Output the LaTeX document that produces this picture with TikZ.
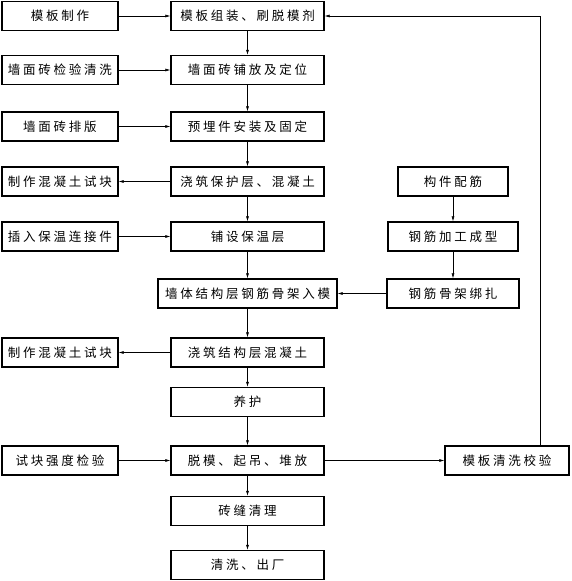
\documentclass[tikz,border=0pt]{standalone}
\usepackage{fontspec}
\setmainfont{Noto Sans CJK SC}[LetterSpace=22]
\usetikzlibrary{arrows.meta}
\begin{document}
\begin{tikzpicture}[x=1pt,y=-1pt,
  box/.style={draw,line width=1.3pt,minimum height=29pt,inner sep=0pt,font=\fontsize{12.5}{14}\selectfont},
  cbox/.style={box,minimum width=153pt},
  lbox/.style={box,minimum width=116pt},
  conn/.style={line width=0.6pt,-{Latex[length=5pt,width=3pt]}}]
\useasboundingbox (0,0) rectangle (571,581);
% center column
\node[cbox] (c1) at (247.5,16) {模板组装、刷脱模剂};
\node[cbox] (c2) at (247.5,70) {墙面砖铺放及定位};
\node[cbox] (c3) at (247.5,126.5) {预埋件安装及固定};
\node[cbox] (c4) at (247.5,181.5) {浇筑保护层、混凝土};
\node[cbox] (c5) at (247.5,236.5) {铺设保温层};
\node[box,minimum width=179pt] (c6) at (247.5,293.5) {墙体结构层钢筋骨架入模};
\node[cbox] (c7) at (247.5,352.5) {浇筑结构层混凝土};
\node[cbox] (c8) at (247.5,402) {养护};
\node[cbox] (c9) at (247.5,460.5) {脱模、起吊、堆放};
\node[cbox] (c10) at (247.5,511) {砖缝清理};
\node[cbox] (c11) at (247.5,565) {清洗、出厂};
% left column
\node[lbox] (l1) at (60,16) {模板制作};
\node[lbox] (l2) at (60,70) {墙面砖检验清洗};
\node[lbox] (l3) at (60,126.5) {墙面砖排版};
\node[lbox] (l4) at (60,181.5) {制作混凝土试块};
\node[lbox] (l5) at (60,236.5) {插入保温连接件};
\node[lbox] (l7) at (60,352.5) {制作混凝土试块};
\node[lbox] (l9) at (60,460.5) {试块强度检验};
% right column
\node[box,minimum width=110pt] (r4) at (453,181.5) {构件配筋};
\node[box,minimum width=130pt] (r5) at (453,236.5) {钢筋加工成型};
\node[box,minimum width=132pt] (r6) at (453,293.5) {钢筋骨架绑扎};
\node[box,minimum width=124pt] (r9) at (507,460.5) {模板清洗校验};
\coordinate (fb) at (540,16);
% vertical connectors
\foreach \a/\b in {c1/c2,c2/c3,c3/c4,c4/c5,c5/c6,c6/c7,c7/c8,c8/c9,c9/c10,c10/c11,r4/r5,r5/r6}
  \draw[conn] (\a) -- (\b);
% horizontal connectors
\draw[conn] (l1) -- (c1);
\draw[conn] (l2) -- (c2);
\draw[conn] (l3) -- (c3);
\draw[conn] (c4) -- (l4);
\draw[conn] (l5) -- (c5);
\draw[conn] (r6) -- (c6);
\draw[conn] (c7) -- (l7);
\draw[conn] (l9) -- (c9);
\draw[conn] (c9) -- (r9);
\draw[conn] (r9.north -| fb) -- (fb) -- (c1.east);
\end{tikzpicture}
\end{document}
